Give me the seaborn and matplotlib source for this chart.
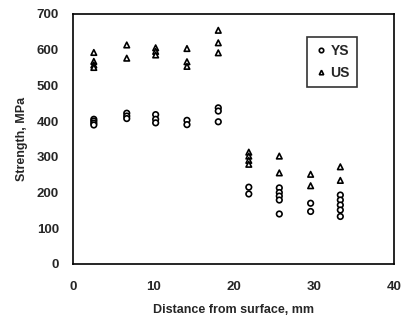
import numpy as np
import pandas as pd
import matplotlib
matplotlib.use("Agg")
import matplotlib.pyplot as plt
from matplotlib.ticker import MultipleLocator
import seaborn as sns

# distance of each measurement location, mm
distance = [2.6, 6.7, 10.3, 14.2, 18.1, 21.9, 25.7, 29.6, 33.3]

# yield strength readings at each location, MPa
ys = [
    [405, 400, 394, 389],
    [422, 414, 407],
    [418, 405, 395],
    [402, 390],
    [437, 428, 398],
    [215, 196],
    [213, 200, 190, 179, 140],
    [170, 147],
    [193, 179, 165, 151, 133],
]

# ultimate strength readings at each location, MPa
us = [
    [592, 567, 557, 550],
    [613, 576],
    [605, 595, 585],
    [603, 566, 553],
    [654, 619, 591],
    [313, 302, 290, 279],
    [302, 255],
    [251, 219],
    [272, 234],
]

rows = []
for d, vals in zip(distance, ys):
    for v in vals:
        rows.append({"distance": d, "strength": v, "kind": "YS"})
for d, vals in zip(distance, us):
    for v in vals:
        rows.append({"distance": d, "strength": v, "kind": "US"})
df = pd.DataFrame(rows)

sns.set_style("white")
plt.rcParams['font.family'] = ['Liberation Sans', 'DejaVu Sans']

fig = plt.figure(figsize=(4.03, 3.30), dpi=100)
ax = fig.add_axes([0.181, 0.2, 0.797, 0.758])

sns.scatterplot(data=df, x="distance", y="strength", style="kind",
                markers={"YS": "o", "US": "^"}, style_order=["YS", "US"],
                color="white", edgecolor="black", linewidth=1.2, s=16, ax=ax)

ax.set_xlim(0, 40)
ax.set_ylim(0, 700)
ax.xaxis.set_major_locator(MultipleLocator(10))
ax.xaxis.set_minor_locator(MultipleLocator(2))
ax.yaxis.set_major_locator(MultipleLocator(100))
ax.yaxis.set_minor_locator(MultipleLocator(20))
ax.tick_params(which="both", direction="in", color="black", labelsize=9.5)
ax.tick_params(which="major", length=4, width=1)
ax.tick_params(which="minor", length=2.5, width=1)
ax.tick_params(axis="x", pad=12)
ax.tick_params(axis="y", pad=10)
ax.tick_params(top=False, right=False)
for lab in ax.get_xticklabels() + ax.get_yticklabels():
    lab.set_fontweight("bold")
for sp in ax.spines.values():
    sp.set_color("black")
    sp.set_linewidth(1.2)

ax.set_xlabel("Distance from surface, mm", fontsize=9, fontweight="bold", labelpad=8)
ax.set_ylabel("Strength, MPa", fontsize=9, fontweight="bold", labelpad=6)

leg = ax.legend(loc="upper right", bbox_to_anchor=(0.905, 0.935), fontsize=10,
                frameon=True, fancybox=False, handletextpad=0.2,
                borderpad=0.5, labelspacing=0.55, handlelength=1.0,
                markerscale=0.8)
leg.get_frame().set_edgecolor("black")
leg.get_frame().set_linewidth(1.2)
for t in leg.get_texts():
    t.set_fontweight("bold")
for h in leg.legend_handles:
    h.set_markerfacecolor("white")
    h.set_markeredgecolor("black")

fig.savefig("out.png", dpi=100)
